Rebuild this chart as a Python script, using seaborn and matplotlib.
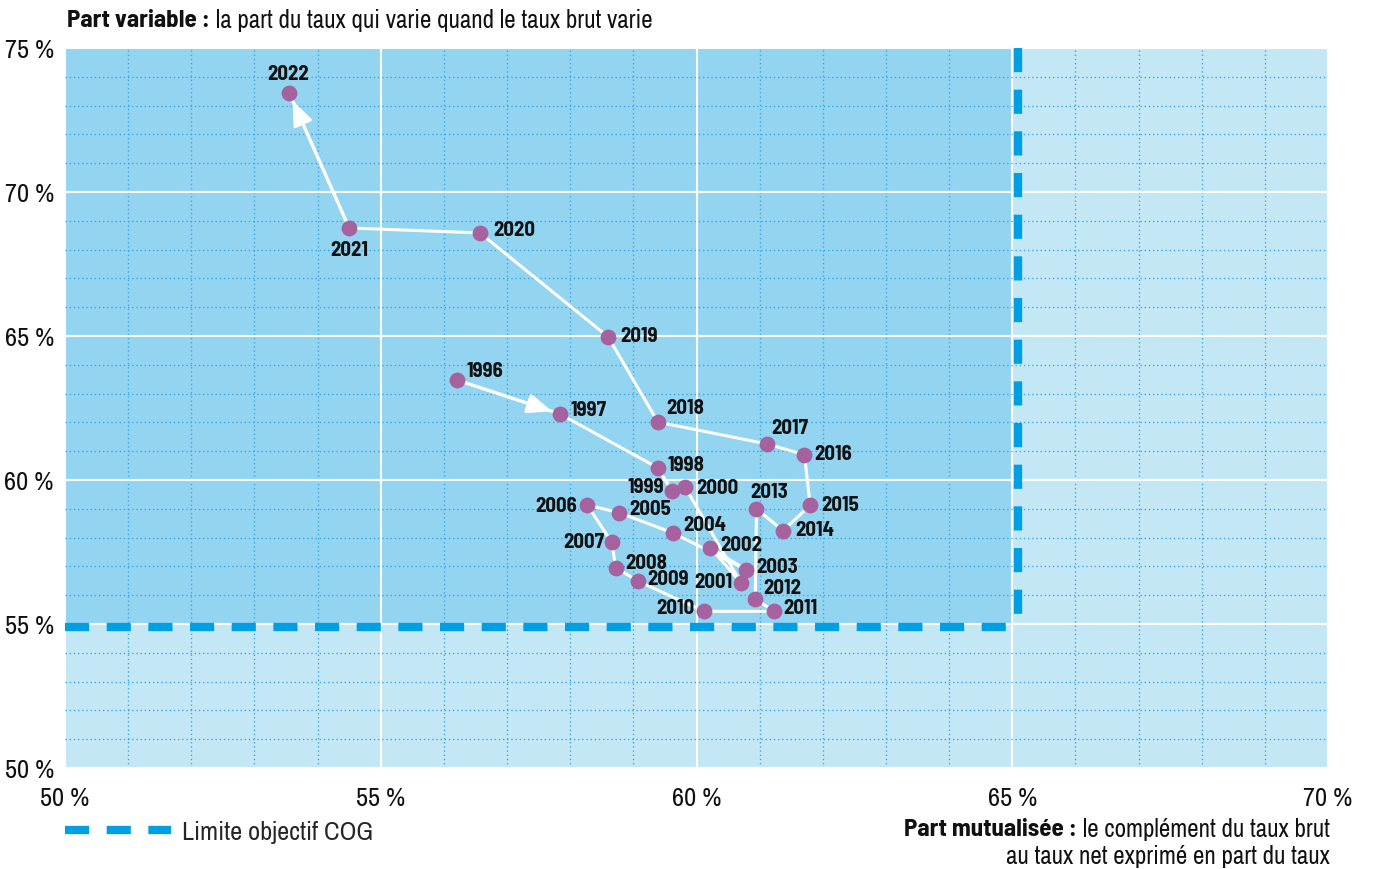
import pandas as pd
import matplotlib
matplotlib.use("Agg")
import matplotlib.pyplot as plt
import seaborn as sns
from matplotlib.ticker import MultipleLocator, FuncFormatter

# Data (part mutualisee, part variable), in %
years = list(range(1996, 2023))
part_mutualisee = [56.21, 57.84, 59.39, 59.61, 59.82, 60.70, 60.22, 60.78, 59.63,
                   58.77, 58.27, 58.66, 58.72, 59.08, 60.12, 61.23, 60.93, 60.95,
                   61.37, 61.80, 61.71, 61.12, 59.39, 58.60, 56.57, 54.50, 53.55]
part_variable = [63.47, 62.29, 60.42, 59.62, 59.75, 56.44, 57.65, 56.89, 58.16,
                 58.87, 59.13, 57.83, 56.96, 56.48, 55.44, 55.44, 55.87, 59.00,
                 58.24, 59.12, 60.88, 61.25, 62.01, 64.97, 68.58, 68.75, 73.44]
COG_X = 65
COG_Y = 55

# label placement: (dx px, dy px, ha)
label_pos = {
    1996: (9, 10, "left"), 1997: (10, 5, "left"), 1998: (10, 3, "left"),
    1999: (-8, 4, "right"), 2000: (11, 0, "left"), 2001: (-8, 1, "right"),
    2002: (10, 3, "left"), 2003: (10, 3, "left"), 2004: (10, 8, "left"),
    2005: (10, 4, "left"), 2006: (-10, 0, "right"), 2007: (-8, 1, "right"),
    2008: (10, 5, "left"), 2009: (9, 3, "left"), 2010: (-10, 4, "right"),
    2011: (9, 4, "left"), 2012: (8, 11, "left"), 2013: (13, 17, "center"),
    2014: (12, 1, "left"), 2015: (11, 1, "left"), 2016: (10, 1, "left"),
    2017: (23, 16, "center"), 2018: (8, 15, "left"), 2019: (12, 1, "left"),
    2020: (13, 3, "left"), 2021: (0, -22, "center"), 2022: (-1, 19, "center"),
}

df = pd.DataFrame({"annee": years, "mutualisee": part_mutualisee, "variable": part_variable})

DARK_BG = "#93d4f1"
LIGHT_BG = "#c4e7f6"
COG_BLUE = "#009fe3"
DOT = "#a5629f"
INK = "#111111"
FONT = ["Liberation Sans Narrow", "Archivo Narrow", "DejaVu Sans"]
FONT_BOLD = ["Liberation Sans Narrow", "Barlow Semi Condensed", "DejaVu Sans"]

sns.set_theme(style="white")
plt.rcParams["font.family"] = FONT

fig = plt.figure(figsize=(13.76, 8.70), dpi=100)
ax = fig.add_axes([65 / 1376, 1 - 769 / 870, (1328 - 65) / 1376, (769 - 49) / 870])
ax.set_xlim(50, 70)
ax.set_ylim(50, 75)
ax.set_facecolor(LIGHT_BG)
for s in ax.spines.values():
    s.set_visible(False)

# zone objectif
ax.fill_between([50, COG_X], COG_Y, 75, color=DARK_BG, lw=0, zorder=0.2)

ax.xaxis.set_major_locator(MultipleLocator(5))
ax.xaxis.set_minor_locator(MultipleLocator(1))
ax.yaxis.set_major_locator(MultipleLocator(5))
ax.yaxis.set_minor_locator(MultipleLocator(1))
ax.set_axisbelow(True)
ax.grid(which="minor", color="#3fa7e6", ls=(0, (1, 2)), lw=1.0)
ax.grid(which="major", color="white", ls="-", lw=1.5)
pct = FuncFormatter(lambda v, p: f"{v:.0f} %")
ax.xaxis.set_major_formatter(pct)
ax.yaxis.set_major_formatter(pct)
ax.tick_params(which="both", length=0, labelsize=19, labelcolor=INK)
ax.tick_params(axis="x", pad=13)
ax.tick_params(axis="y", pad=8)

# COG limit (drawn just outside the zone)
dash = (2.9, 2.1)
cog_line, = ax.plot([50, COG_X + 0.14], [COG_Y - 0.12] * 2, color=COG_BLUE, lw=6,
                    dashes=dash, zorder=2, label="Limite objectif COG")
ax.plot([COG_X + 0.09] * 2, [75, COG_Y - 0.25], color=COG_BLUE, lw=6,
        dashes=(2.9, 2.1), zorder=2)

# trajectory
sns.lineplot(data=df, x="mutualisee", y="variable", sort=False, estimator=None,
             color="white", lw=2.2, ax=ax, zorder=3)
arrow = dict(arrowstyle="-|>,head_length=0.75,head_width=0.3", color="white", lw=2.2,
             shrinkA=0, shrinkB=6, mutation_scale=20)
for a, b in [(0, 1), (len(df) - 2, len(df) - 1)]:
    ax.annotate("", xy=(df.mutualisee[b], df.variable[b]),
                xytext=(df.mutualisee[a], df.variable[a]), arrowprops=arrow, zorder=3)
sns.scatterplot(data=df, x="mutualisee", y="variable", color=DOT, s=130, linewidth=0,
                ax=ax, zorder=4, legend=False)

for yr, x, y in zip(df.annee, df.mutualisee, df.variable):
    dx, dy, ha = label_pos[yr]
    ax.annotate(str(yr), (x, y), xytext=(dx * 0.72, dy * 0.72), textcoords="offset points",
                ha=ha, va="center", fontsize=15, fontweight="bold", family=FONT_BOLD,
                color=INK, zorder=5)

ax.set_xlabel("")
ax.set_ylabel("")

# title
t1 = fig.text(67 / 1376, 1 - 32 / 870, "Part variable :", fontsize=18, fontweight="bold",
              family=FONT_BOLD, ha="left", va="bottom", color=INK)
ax.annotate(" la part du taux qui varie quand le taux brut varie", xy=(1, 0), xycoords=t1,
            ha="left", va="bottom", fontsize=18, color=INK, annotation_clip=False)

# x axis caption
fig.text(1330 / 1376, 1 - 857 / 870, "au taux net exprimé en part du taux", fontsize=18,
         ha="right", va="center", color=INK)
c1 = fig.text(1330 / 1376, 1 - 830 / 870, " le complément du taux brut", fontsize=18,
              ha="right", va="center", color=INK)
ax.annotate("Part mutualisée :", xy=(0, 0), xycoords=c1, ha="right", va="bottom",
            fontsize=18, fontweight="bold", family=FONT_BOLD, color=INK, annotation_clip=False)

ax.legend(handles=[cog_line], loc="center left", bbox_to_anchor=(65 / 1376, 1 - 833 / 870),
          bbox_transform=fig.transFigure, frameon=False, fontsize=19, handlelength=4.0,
          handletextpad=0.45, borderpad=0, borderaxespad=0)

fig.savefig("out.png", dpi=100)
